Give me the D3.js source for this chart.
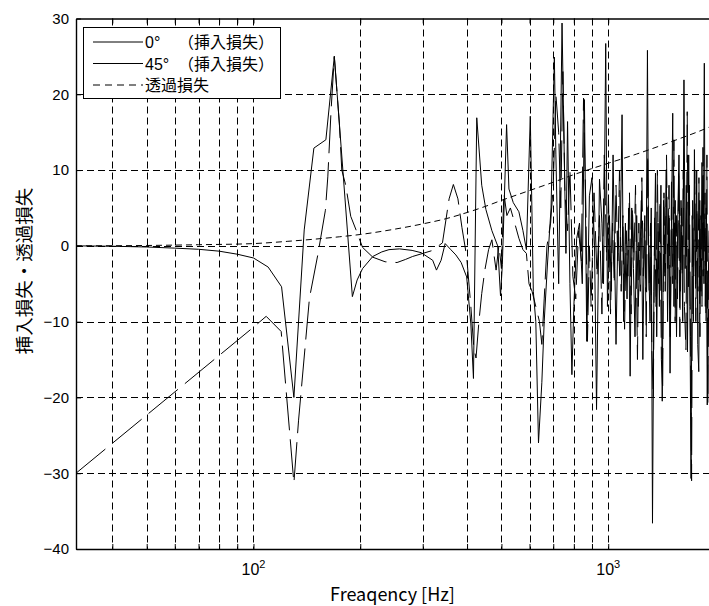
<!DOCTYPE html>
<html>
<head>
<meta charset="utf-8">
<script src="https://cdn.jsdelivr.net/npm/d3@7"></script>
<style>
  body { margin: 0; background: #fff; }
  text { font-family: "Liberation Sans", Arial, sans-serif; fill: #000; }
  .jp { font-family: "Noto Sans CJK JP", sans-serif; }
  .lg { font-family: "Liberation Sans", "Noto Sans CJK JP", sans-serif; }
</style>
</head>
<body>
<div id="chart"></div>
<script>
// 0° insertion loss
var freq0 = [31.6, 40, 50, 60, 70, 80, 90, 100, 110, 120,
  130, 139, 148, 160, 169, 190, 196, 203, 217, 230,
  241, 258, 280, 297, 320, 328, 338, 347, 360, 372,
  385, 399, 410, 417, 426, 440, 452, 470, 488, 497,
  503, 517, 525, 540, 560, 575, 588, 603, 615, 625,
  636, 650, 660, 675, 690, 705, 712, 725, 741, 748,
  760, 768, 780, 790, 800, 815, 830, 845, 857, 870,
  885, 900, 915, 927, 945, 960, 970, 984, 995, 1008,
  1020, 1032, 1044, 1052, 1065, 1078, 1094, 1105, 1118, 1130,
  1142, 1153, 1165, 1178, 1190, 1203, 1215, 1228, 1240, 1252,
  1265, 1278, 1290, 1300, 1312, 1322, 1333, 1345, 1359, 1370,
  1382, 1394, 1408, 1420, 1432, 1445, 1458, 1470, 1482, 1494,
  1507, 1520, 1532, 1545, 1558, 1570, 1583, 1596, 1609, 1622,
  1635, 1648, 1660, 1673, 1686, 1699, 1712, 1725, 1738, 1750,
  1763, 1776, 1788, 1800, 1812, 1825, 1838, 1852, 1866, 1878,
  1890, 1902, 1914, 1930];
var loss0 = [0, -0.05, -0.15, -0.3, -0.45, -0.7, -1.1, -1.6, -2.8, -5.4,
  -20, 2.1, 12.9, 14, 25, -6.7, -4.5, -3, -1.4, -0.8,
  -0.5, -0.4, -0.6, -0.9, -1.9, -3.2, -1.9, 0.3, -0.5, -1.2,
  -2.2, -4.1, -10.3, -17.5, 16.9, 8, 4.8, 2, 0, -6.6,
  -2.5, 16, 7.5, 5.7, 4.5, 2, -0.5, 17.1, -6, -10,
  -26, -18, -10, -2, 5, 24.9, 12, -5, 29.4, 18,
  -1, 16.4, -5, -17, -8, 1, 3, -5, 19.3, -12.6,
  6.6, 9, 0, -21.6, 8.8, 3, -5, 26.7, -8, 4,
  -6, 12, -3, -13, 2, -4, 17.3, -10, 3, -7,
  5, -17.2, 5, -3, -12, 4, -8, -2, 6, -15,
  3, -6, 25.8, -2, -10, 5, -36.6, -6, 9.6, -12,
  3, -8, 8, -20.5, 6, -4, 10, -10, 4, -16.8,
  2, 17.5, -8, 6, -12, 3, 12, -6, 5, -10,
  21.9, -3, 8, -14, 12, -8, -30.7, 4, -10, 12.7,
  -5, 10, -13, -16.6, 6, -6, 11, -4, 24.1, -8,
  5, -21, -5, 3];

// 45° insertion loss
var freq45 = [31.6, 99, 108.6, 119.7, 130, 134, 143.8, 151.8, 159.5, 162,
  165.5, 169, 174.6, 177.4, 182, 188, 194.6, 203, 217, 235,
  254, 268, 281, 300, 320, 341, 356, 366, 377, 387,
  399, 410, 418, 424, 432, 440, 449, 460, 470, 483,
  492, 500, 508, 518, 530, 545, 560, 575, 588, 598,
  610, 625, 640, 650, 660, 672, 688, 700, 712, 725,
  735, 745, 755, 768, 780, 795, 810, 825, 840, 852,
  865, 874, 885, 895, 912, 930, 945, 960, 975, 990,
  1002, 1015, 1028, 1040, 1052, 1064, 1076, 1088, 1100, 1112,
  1124, 1136, 1148, 1160, 1170, 1182, 1194, 1209, 1220, 1232,
  1244, 1256, 1268, 1280, 1292, 1304, 1316, 1328, 1340, 1352,
  1364, 1376, 1388, 1400, 1412, 1424, 1436, 1448, 1460, 1472,
  1484, 1496, 1508, 1520, 1532, 1544, 1556, 1568, 1580, 1592,
  1604, 1616, 1628, 1640, 1656, 1670, 1682, 1694, 1706, 1718,
  1730, 1742, 1754, 1766, 1778, 1790, 1802, 1814, 1826, 1838,
  1850, 1862, 1874, 1886, 1898, 1910, 1925];
var loss45 = [-30, -10.9, -9.3, -11.3, -31.3, -23, -6.9, -1.2, 4.7, 9.1,
  17.9, 25, 16.2, 10, 8, 3.9, 2.1, -0.2, -1.5, -2.1,
  -2.2, -1.8, -1.4, -1, -0.6, 0.4, 6.2, 8.1, 6.2, 2.4,
  -1.4, -8, -13.5, -14.8, -10, -6.3, -3.2, -0.5, 0.8, -3.2,
  0.1, -3, 7, 4, 5, 3, 1, -0.5, -1, -5,
  -6, -8, -10, -13, -7, 0, 3, 8, 20, 15,
  5, 23, 7, 2, 10, -4, -7, 2, -2, 19.5,
  5, -12.6, 0, -8, 7, -4, 4, -9, 12, -2,
  6, -9, 3, -5, 8, -2, 10, -6, 4, -11,
  2, -4, 7, -9, 5, -2, 8, -15, 3, -6,
  9, -4, 4, -12, 12, -6, 3, -14, -20, 4,
  -8, 10, -5, 6, -15, -19, 7, -6, 12, -3,
  8, -12, 9, -5, 14, -10, 4, -7, 10, -12,
  6, -4, 10, -8, -13.7, 17.7, -6, 8, -12, -31,
  6, -4, 10, -10, 5, -6, 9, -12, 4, -8,
  13, -5, 7, -10, 12, -20.7, 2];

// transmission loss
var freqTL = [31.6, 50, 70, 100, 125, 150, 175, 200, 250, 300, 350, 400,
  450, 500, 600, 700, 800, 900, 1000, 1200, 1400, 1600, 1800, 2000];
var lossTL = [0, 0.05, 0.15, 0.3, 0.6, 0.9, 1.2, 1.5, 2.2, 2.9, 3.6, 4.4,
  5.2, 6.0, 7.3, 8.4, 9.4, 10.2, 10.9, 12.1, 13.2, 14.2, 15.1, 16.0];

var xTicks = [40, 50, 60, 70, 80, 90, 100, 200, 300, 400, 500, 600, 700, 800, 900, 1000, 2000];
var xLabelTicks = [100, 1000];
var xLabelExp = ["2", "3"];
var yTicks = [-40, -30, -20, -10, 0, 10, 20, 30];
var legendNames = ["0°", "45°", "透過損失"];
var legendSuffix = ["（挿入損失）", "（挿入損失）", ""];

var w = 709, h = 606;
var pLeft = 76, pRight = 715, pTop = 18.5, pBottom = 549;

var svg = d3.select("#chart").append("svg")
  .attr("width", w).attr("height", h);

svg.append("rect").attr("width", w).attr("height", h).attr("fill", "#fff");

var x = d3.scaleLog().domain([31.6, 2000]).range([pLeft, pRight]);
var y = d3.scaleLinear().domain([-40, 30]).range([pBottom, pTop]);

// grid
var grid = svg.append("g").attr("stroke", "#000").attr("stroke-width", 1)
  .attr("stroke-dasharray", "7,4");
grid.selectAll("line.gx").data(xTicks).join("line")
  .attr("class", "gx")
  .attr("x1", function(d) { return Math.round(x(d)) + 0.5; })
  .attr("x2", function(d) { return Math.round(x(d)) + 0.5; })
  .attr("y1", pTop).attr("y2", pBottom);
grid.selectAll("line.gy").data(yTicks.slice(1, -1)).join("line")
  .attr("class", "gy")
  .attr("x1", pLeft).attr("x2", pRight)
  .attr("y1", function(d) { return Math.round(y(d)) + 0.5; })
  .attr("y2", function(d) { return Math.round(y(d)) + 0.5; });

// data lines
svg.append("clipPath").attr("id", "clip").append("rect")
  .attr("x", pLeft).attr("y", pTop).attr("width", pRight - pLeft).attr("height", pBottom - pTop);

var plot = svg.append("g").attr("clip-path", "url(#clip)").attr("fill", "none");

function series(fs, vs) {
  return fs.map(function(f, i) { return [f, vs[i]]; });
}
var line = d3.line().x(function(d) { return x(d[0]); }).y(function(d) { return y(d[1]); });
var smooth = d3.line().curve(d3.curveMonotoneX)
  .x(function(d) { return x(d[0]); }).y(function(d) { return y(d[1]); });

plot.append("path").datum(series(freqTL, lossTL))
  .attr("d", smooth).attr("stroke", "#000").attr("stroke-width", 1)
  .attr("stroke-dasharray", "6,4");
plot.append("path").datum(series(freq45, loss45))
  .attr("d", line).attr("stroke", "#000").attr("stroke-width", 1)
  .attr("stroke-dasharray", "38,9");
plot.append("path").datum(series(freq0, loss0))
  .attr("d", line).attr("stroke", "#000").attr("stroke-width", 1);

// axes
var axB = svg.append("g").attr("transform", "translate(0," + pBottom + ")")
  .call(d3.axisBottom(x).tickValues(xTicks).tickSize(-5).tickSizeOuter(0).tickFormat(""));
var axT = svg.append("g").attr("transform", "translate(0," + pTop + ")")
  .call(d3.axisTop(x).tickValues(xTicks).tickSize(-5).tickSizeOuter(0).tickFormat(""));
var axL = svg.append("g").attr("transform", "translate(" + pLeft + ",0)")
  .call(d3.axisLeft(y).tickValues(yTicks).tickSize(-5).tickSizeOuter(0).tickPadding(7));

[axB, axT, axL].forEach(function(g) {
  g.select(".domain").attr("stroke", "#000").attr("stroke-width", 1.4);
  g.selectAll(".tick line").attr("stroke", "#000");
});
axL.selectAll("text").attr("font-family", "Liberation Sans, Arial, sans-serif")
  .attr("font-size", 15).attr("fill", "#000");

// x tick labels 10^n
var xl = svg.append("g").selectAll("text").data(xLabelTicks).join("text")
  .attr("x", function(d) { return x(d); })
  .attr("y", 575)
  .attr("text-anchor", "middle")
  .attr("font-size", 16);
xl.append("tspan").text("10");
xl.append("tspan").attr("font-size", 11).attr("dy", -7)
  .text(function(d, i) { return xLabelExp[i]; });

// axis titles
svg.append("text").attr("class", "jp")
  .attr("x", (pLeft + w) / 2).attr("y", 601)
  .attr("text-anchor", "middle").attr("font-size", 18)
  .text("Freaqency [Hz]");

svg.append("text").attr("class", "jp")
  .attr("transform", "translate(23,271) rotate(-90)")
  .attr("text-anchor", "middle").attr("dominant-baseline", "central")
  .attr("font-size", 18.5)
  .text("挿入損失・透過損失");

// legend
var lg = svg.append("g");
lg.append("rect").attr("x", 83.5).attr("y", 27.5).attr("width", 197).attr("height", 71)
  .attr("fill", "#fff").attr("stroke", "#000").attr("stroke-width", 1);
var rowsY = [42, 63.5, 85];
lg.selectAll("line").data(legendNames).join("line")
  .attr("x1", 93).attr("x2", 143)
  .attr("y1", function(d, i) { return rowsY[i]; })
  .attr("y2", function(d, i) { return rowsY[i]; })
  .attr("stroke", "#000").attr("stroke-width", 1)
  .attr("stroke-dasharray", function(d, i) { return i == 2 ? "7,5" : null; });
var lt = lg.selectAll("text").data(legendNames).join("text")
  .attr("class", "lg")
  .attr("y", function(d, i) { return rowsY[i] + 6; })
  .attr("font-size", 16);
lt.append("tspan").attr("x", 145).text(function(d) { return d; });
lt.append("tspan").attr("x", 178).text(function(d, i) { return legendSuffix[i]; });
</script>
</body>
</html>
